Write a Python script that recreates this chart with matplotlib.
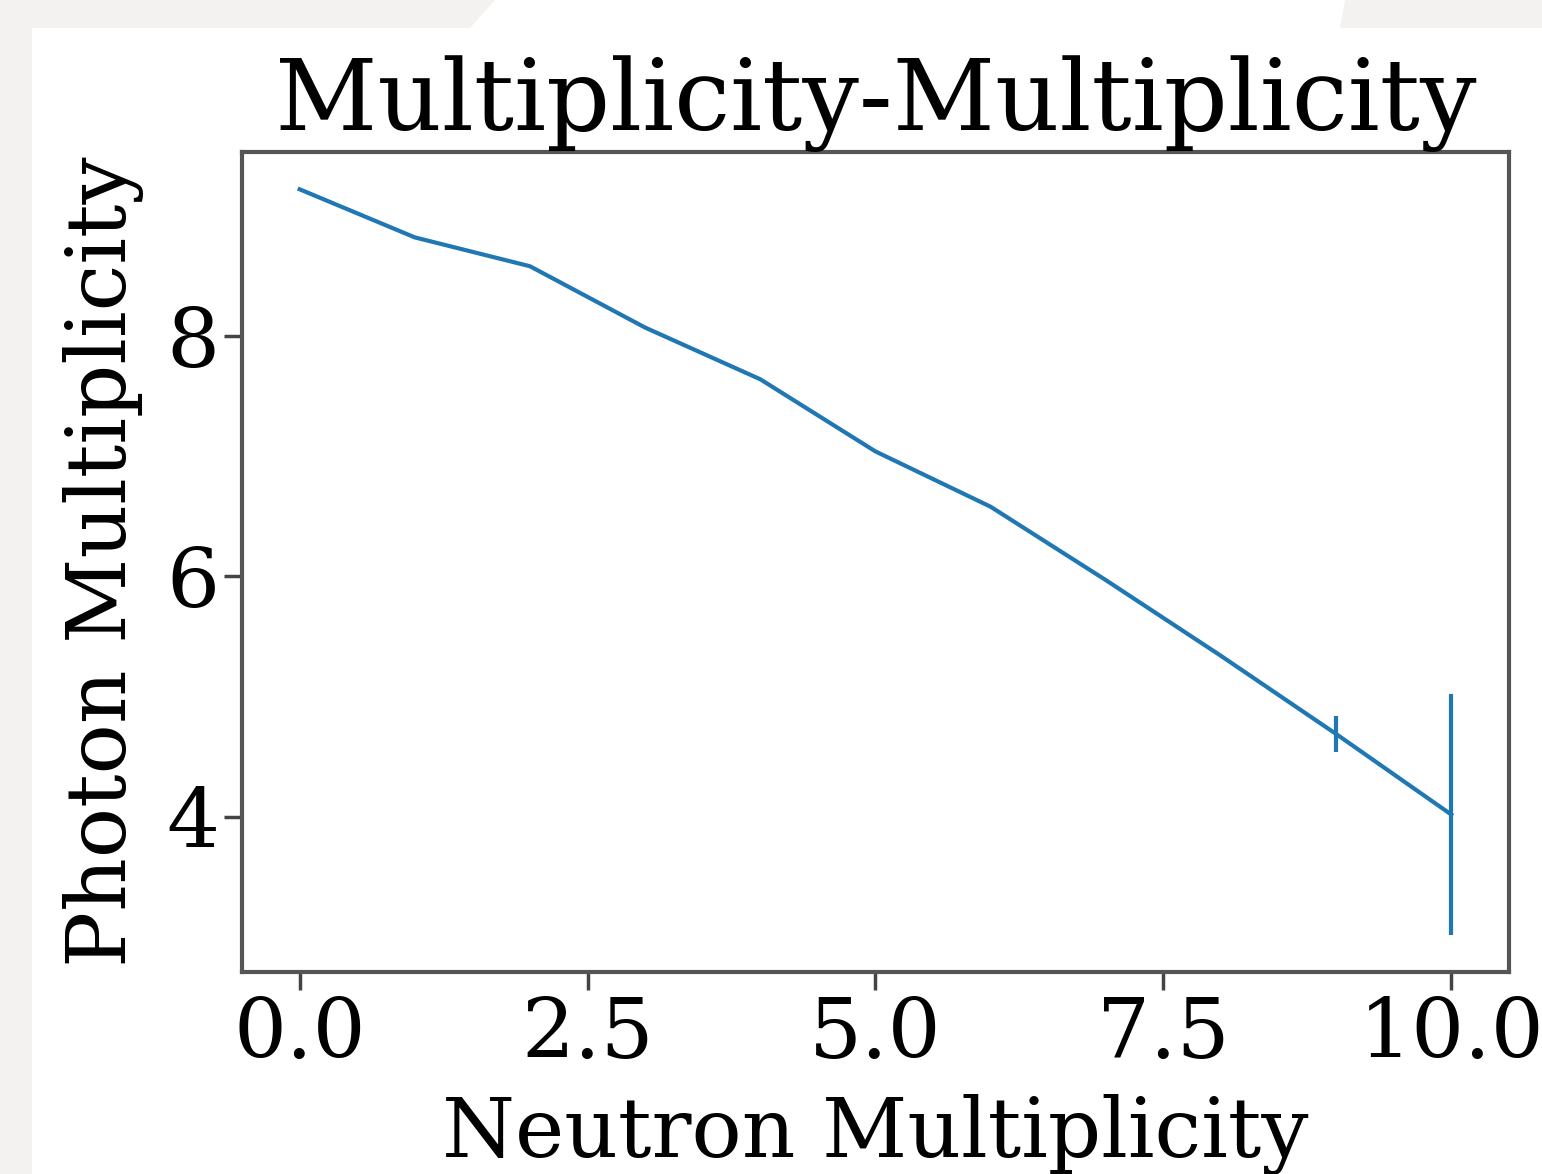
import matplotlib.pyplot as plt
from matplotlib.patches import Rectangle, Polygon

# dados
neutron_mult = [0, 1, 2, 3, 4, 5, 6, 7, 8, 9, 10]
photon_mult = [9.22, 8.82, 8.58, 8.07, 7.64, 7.04, 6.58, 5.97, 5.34, 4.69, 4.02]
photon_err = [0, 0, 0, 0, 0, 0, 0, 0, 0, 0.15, 1.0]

plt.rcParams['font.family'] = 'DejaVu Serif'

W, H = 1542, 1174
fig = plt.figure(figsize=(W / 100, H / 100), dpi=100, facecolor='#f3f2f0')

# fundo branco do slide
fig.patches.append(Rectangle((32 / W, 0), 1, 1 - 28 / H, transform=fig.transFigure,
                             facecolor='white', edgecolor='none', zorder=-10))
fig.patches.append(Polygon([(470 / W, 1 - 28 / H), (495 / W, 1), (1345 / W, 1), (1340 / W, 1 - 28 / H)],
                           closed=True, transform=fig.transFigure,
                           facecolor='white', edgecolor='none', zorder=-10))

ax = fig.add_axes([0.157, 0.172, 0.8215, 0.6985])
ax.errorbar(neutron_mult, photon_mult, yerr=photon_err, color='#1f77b4', linewidth=3, elinewidth=3)

ax.set_title('Multiplicity-Multiplicity', fontsize=72, pad=4)
ax.set_xlabel('Neutron Multiplicity', fontsize=60, labelpad=14)
ax.set_ylabel('Photon Multiplicity', fontsize=60, labelpad=16)
ax.set_yticks([4, 6, 8])
ax.tick_params(labelsize=60, length=13, width=2.5, color='#444444')

for spine in ax.spines.values():
    spine.set_color('#555555')
    spine.set_linewidth(3)

fig.savefig('out.png', dpi=100, facecolor=fig.get_facecolor())
